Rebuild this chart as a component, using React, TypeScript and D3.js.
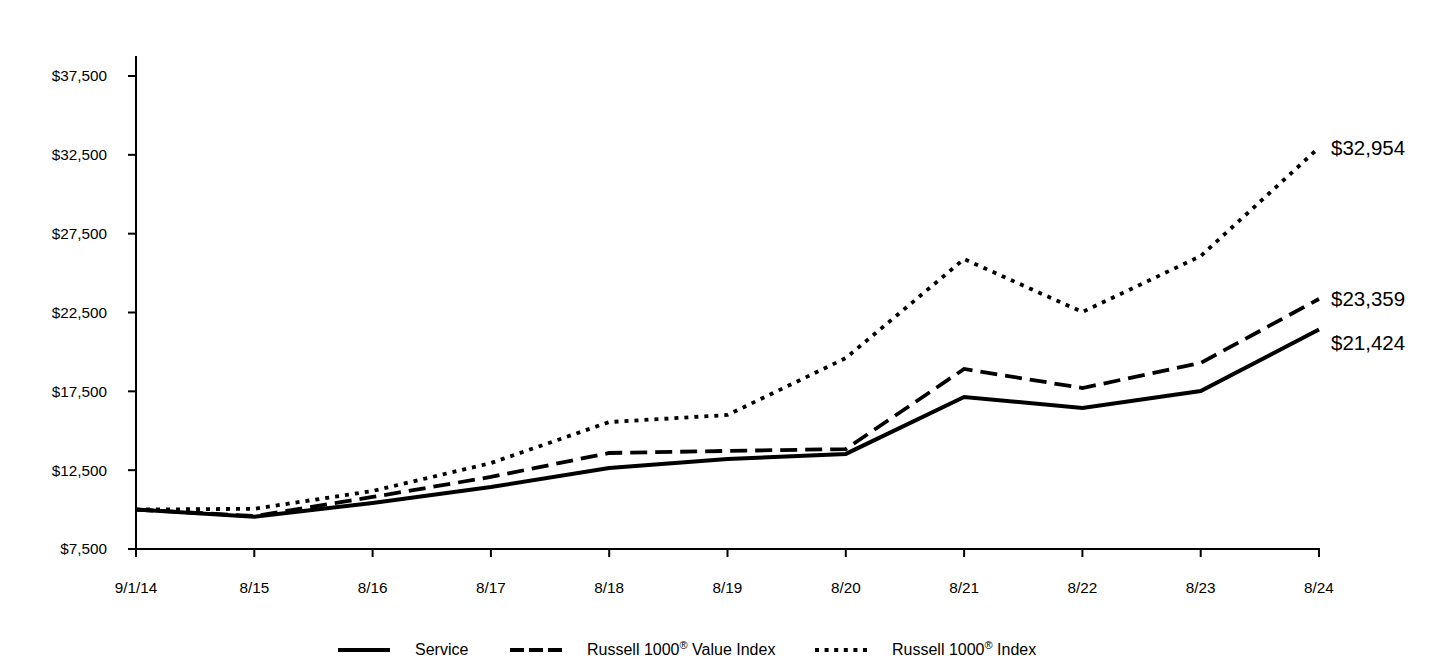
import React from "react";
import * as d3 from "d3";

const categories = ["9/1/14", "8/15", "8/16", "8/17", "8/18", "8/19", "8/20", "8/21", "8/22", "8/23", "8/24"];
const serviceValues = [10000, 9550, 10420, 11430, 12640, 13210, 13530, 17140, 16440, 17520, 21424];
const valueIndexValues = [10000, 9590, 10800, 12070, 13590, 13720, 13840, 18920, 17710, 19300, 23359];
const russellValues = [10000, 10050, 11180, 12950, 15550, 16000, 19610, 25890, 22530, 26080, 32954];
const yTicks = [7500, 12500, 17500, 22500, 27500, 32500, 37500];
const endLabels = ["$21,424", "$23,359", "$32,954"];

const W = 1440;
const H = 660;
const FONT = "Arial, 'Liberation Sans', Helvetica, sans-serif";

export default function App() {
  const x = d3.scalePoint<string>().domain(categories).range([136, 1319]);
  const y = d3.scaleLinear().domain([7500, 37500]).range([549, 76]);
  const line = d3
    .line<number>()
    .x((_, i) => x(categories[i]) as number)
    .y((d) => y(d));

  const series = [
    { name: "Service", values: serviceValues, dash: "none", label: endLabels[0], off: 13 },
    { name: "Value", values: valueIndexValues, dash: "17,8", label: endLabels[1], off: 0 },
    { name: "Index", values: russellValues, dash: "4,6", label: endLabels[2], off: 0 },
  ];
  const fmt = (v: number) => "$" + d3.format(",")(v);

  return (
    <svg width={W} height={H} style={{ position: "absolute", left: 0, top: 0 }} fontFamily={FONT}>
      {/* axes */}
      <line x1={136} y1={56} x2={136} y2={549} stroke="#000" strokeWidth={2} />
      <line x1={128} y1={549} x2={1320} y2={549} stroke="#000" strokeWidth={2} />
      {yTicks.map((t) => (
        <g key={t}>
          <line x1={128} x2={136} y1={y(t)} y2={y(t)} stroke="#000" strokeWidth={2} />
          <text x={107} y={y(t)} dy="0.35em" textAnchor="end" fontSize={15.3} fill="#000">
            {fmt(t)}
          </text>
        </g>
      ))}
      {categories.map((c) => (
        <g key={c}>
          <line x1={x(c)} x2={x(c)} y1={549} y2={557} stroke="#000" strokeWidth={2} />
          <text x={x(c)} y={593} textAnchor="middle" fontSize={15.3} fill="#000">
            {c}
          </text>
        </g>
      ))}
      {/* lines */}
      {series.map((s) => (
        <path
          key={s.name}
          d={line(s.values) || ""}
          fill="none"
          stroke="#000"
          strokeWidth={s.dash === "none" ? 4 : 3.8}
          strokeDasharray={s.dash === "none" ? undefined : s.dash}
          strokeLinejoin="miter"
        />
      ))}
      {series.map((s) => (
        <text
          key={s.name + "l"}
          x={1331}
          y={y(s.values[s.values.length - 1]) + s.off}
          dy="0.35em"
          fontSize={20.5}
          fill="#000"
        >
          {s.label}
        </text>
      ))}
      {/* legend */}
      <g fontSize={16} fill="#000">
        <line x1={338} x2={390} y1={650} y2={650} stroke="#000" strokeWidth={4} />
        <text x={415} y={655}>Service</text>
        <line x1={510} x2={562} y1={650} y2={650} stroke="#000" strokeWidth={4} strokeDasharray="14,5" />
        <text x={587} y={655}>
          Russell 1000<tspan fontSize={11} dy={-6}>®</tspan>
          <tspan dy={6}> Value Index</tspan>
        </text>
        <line x1={815} x2={867} y1={650} y2={650} stroke="#000" strokeWidth={4} strokeDasharray="4,5.6" />
        <text x={892} y={655}>
          Russell 1000<tspan fontSize={11} dy={-6}>®</tspan>
          <tspan dy={6}> Index</tspan>
        </text>
      </g>
    </svg>
  );
}
